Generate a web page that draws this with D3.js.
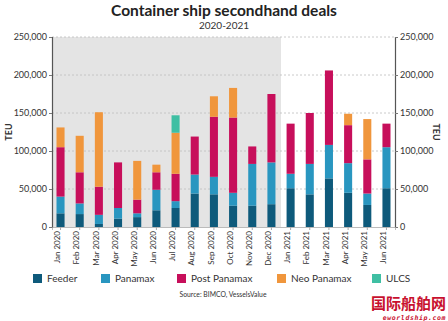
<!DOCTYPE html>
<html><head><meta charset="utf-8">
<script src="https://cdn.jsdelivr.net/npm/d3@7"></script>
<style>body{margin:0;background:#fff}svg{display:block}</style>
</head><body>
<script>
const months = ["Jan 2020","Feb 2020","Mar 2020","Apr 2020","May 2020","Jun 2020","Jul 2020","Aug 2020","Sep 2020","Oct 2020","Nov 2020","Dec 2020","Jan 2021","Feb 2021","Mar 2021","Apr 2021","May 2021","Jun 2021"];
const seriesNames = ["Feeder","Panamax","Post Panamax","Neo Panamax","ULCS"];
const feeder      = [18000,17000, 4000,11000,13000,22000,25000,44000,43000,28000,28000,30000,51000,43000,64000,45000,29000,51000];
const panamax     = [22000,14000,12000,14000, 5000,27000, 9000,25000,23000,17000,55000,55000,19000,40000,44000,39000,15000,54000];
const postPanamax = [65000,41000,37000,60000,18000,23000,36000,50000,79000,99000,23000,90000,66000,67000,98000,50000,45000,31000];
const neoPanamax  = [26000,48000,98000,    0,51000,10000,54000,    0,27000,39000,    0,    0,    0,    0,    0,15000,53000,    0];
const ulcs        = [    0,    0,    0,    0,    0,    0,23000,    0,    0,    0,    0,    0,    0,    0,    0,    0,    0,    0];
const yTicks = [0,50000,100000,150000,200000,250000];
const colors = ["#0e5a7b","#2996c0","#c70f5b","#f0963c","#3fbfa3"];

const W=448,H=321;
const svg=d3.select("body").append("svg").attr("width",W).attr("height",H);
const font="Lato, 'Open Sans', sans-serif";

const data = months.map((m,i)=>({month:m,"Feeder":feeder[i],"Panamax":panamax[i],"Post Panamax":postPanamax[i],"Neo Panamax":neoPanamax[i],"ULCS":ulcs[i]}));
const stack = d3.stack().keys(seriesNames)(data);

const x = d3.scaleBand().domain(months).range([52,395]).paddingInner(0.58).paddingOuter(0.235);
const y = d3.scaleLinear().domain([0,250000]).range([227,37]);

// gray background for 2020
const gEnd = x("Dec 2020")+x.bandwidth()+(x.step()-x.bandwidth())/2;
svg.append("rect").attr("x",52).attr("y",y(250000)).attr("width",gEnd-52).attr("height",y(0)-y(250000)).attr("fill","#e4e4e4");

// gridlines
svg.append("g").selectAll("line").data(yTicks.filter(d=>d>0)).join("line")
  .attr("x1",52).attr("x2",395).attr("y1",d=>y(d)).attr("y2",d=>y(d))
  .attr("stroke","#bdbdbd").attr("stroke-width",0.8).attr("stroke-dasharray","2,2");

// bars
svg.append("g").selectAll("g").data(stack).join("g").attr("fill",(d,i)=>colors[i])
  .selectAll("rect").data(d=>d).join("rect")
  .attr("x",d=>x(d.data.month)).attr("width",x.bandwidth())
  .attr("y",d=>y(d[1])).attr("height",d=>Math.max(0,y(d[0])-y(d[1])));

// axes
const fmt = d3.format(",");
const left = svg.append("g").attr("transform","translate(52,0)")
  .call(d3.axisLeft(y).tickValues(yTicks).tickFormat(fmt).tickSize(3).tickPadding(2));
const right = svg.append("g").attr("transform","translate(395,0)")
  .call(d3.axisRight(y).tickValues(yTicks).tickFormat(fmt).tickSize(3).tickPadding(2));
[left,right].forEach(a=>{
  a.select(".domain").attr("stroke","#555").attr("stroke-width",1.2);
  a.selectAll(".tick line").attr("stroke","#777");
  a.selectAll("text").attr("font-family",font).attr("font-size",9).attr("fill","#333");
});
const bottom = svg.append("g").attr("transform","translate(0,227)")
  .call(d3.axisBottom(x).tickSize(3).tickPadding(3));
bottom.select(".domain").attr("stroke","#aaa").attr("stroke-width",0.8);
bottom.selectAll(".tick line").attr("stroke","#aaa");
bottom.selectAll("text").attr("font-family",font).attr("font-size",8).attr("fill","#333")
  .attr("transform","rotate(-90)").attr("text-anchor","end").attr("dx","-4").attr("dy","-0.3em").attr("y",0).attr("x",0)
  .attr("dominant-baseline","middle");

// TEU labels
svg.append("text").attr("transform","translate(12,132) rotate(-90)").attr("text-anchor","middle")
  .attr("font-family",font).attr("font-size",9).attr("font-weight","bold").attr("fill","#333").text("TEU");
svg.append("text").attr("transform","translate(433,132) rotate(90)").attr("text-anchor","middle")
  .attr("font-family",font).attr("font-size",9).attr("font-weight","bold").attr("fill","#333").text("TEU");

// title
svg.append("text").attr("x",224).attr("y",15.5).attr("text-anchor","middle").attr("font-family",font)
  .attr("font-size",15.5).attr("font-weight","bold").attr("fill","#222").text("Container ship secondhand deals");
svg.append("text").attr("x",224).attr("y",29).attr("text-anchor","middle").attr("font-family",font)
  .attr("font-size",10).attr("fill","#333").text("2020-2021");

// legend
const legX=[33,101,177,277,372];
const leg=svg.append("g").selectAll("g").data(seriesNames).join("g").attr("transform",(d,i)=>`translate(${legX[i]},274)`);
leg.append("rect").attr("width",9).attr("height",9).attr("fill",(d,i)=>colors[i]);
leg.append("text").attr("x",14).attr("y",8).attr("font-family",font).attr("font-size",10).attr("fill","#333").text(d=>d);

svg.append("text").attr("x",223).attr("y",297).attr("text-anchor","middle").attr("font-family",font)
  .attr("font-size",6.8).attr("fill","#333").text("Source: BIMCO, VesselsValue");

// watermark
svg.append("text").attr("x",446).attr("y",308.5).attr("text-anchor","end").attr("font-family","'Noto Sans CJK SC'")
  .attr("font-size",15).attr("font-weight","bold").attr("fill","#c8102e").text("国际船舶网");
svg.append("text").attr("x",446).attr("y",319.5).attr("text-anchor","end").attr("font-family","'DejaVu Sans Mono', monospace")
  .attr("font-size",6.5).attr("font-style","italic").attr("font-weight","bold").attr("fill","#c8102e").attr("letter-spacing","0.6").text("eworldship.com");
</script>
</body></html>
